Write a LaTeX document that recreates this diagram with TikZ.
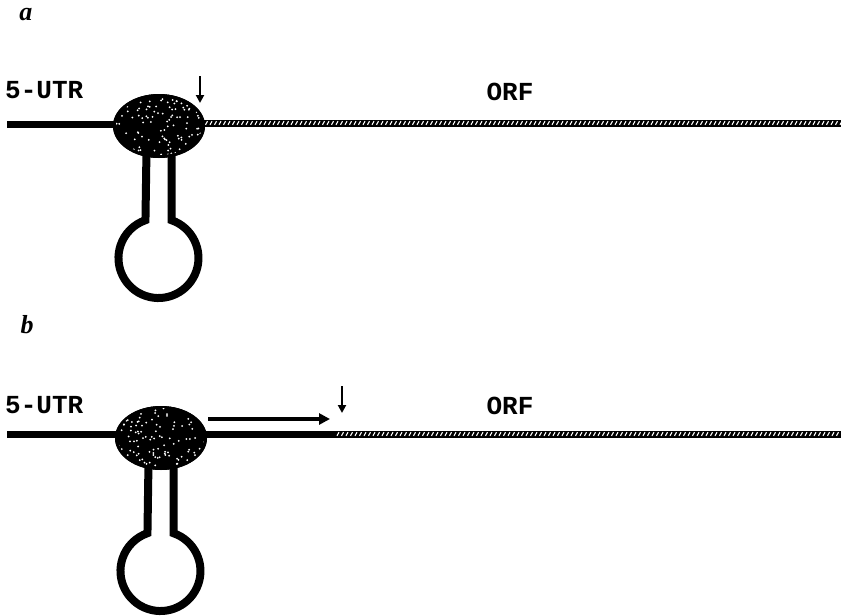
\documentclass[tikz,border=0pt]{standalone}
\usepackage{fontspec}
\usetikzlibrary{shapes.geometric,arrows.meta}
\newfontfamily\lblfont{Liberation Mono}
\newfontfamily\panelfont{Liberation Serif}
\tikzset{
  x=1pt, y=1pt,
  lbl/.style={font=\lblfont\bfseries\fontsize{26}{26}\selectfont, inner sep=0pt},
  panel/.style={font=\panelfont\bfseries\itshape\fontsize{26}{26}\selectfont, inner sep=0pt},
  rna/.style={line width=7, black},
  ribosome/.style={ellipse, fill=black, draw=none, minimum width=92, minimum height=64, inner sep=0pt},
  hairpin/.style={line width=8, black},
  marker/.style={line width=2.8, -{Triangle[length=8, width=8]}},
  scan/.style={line width=3.8, -{Triangle[length=11, width=11]}}
}
% hatched coding region: black band with slanted white ticks
\newcommand{\orfband}[3]{%
  \draw[rna] (#1,#3) -- (#2,#3);
  \pgfmathsetmacro{\xstart}{#1+2}
  \pgfmathsetmacro{\xnext}{#1+6.5}
  \foreach \xx in {\xstart,\xnext,...,#2}
    \draw[white, line width=1.1] (\xx-1,#3-1.8) -- (\xx+1,#3+1.8);
}
% speckled fill inside a ribosome ellipse
\newcommand{\speckle}[4]{%
  \begin{scope}
    \clip (#1,#2) ellipse [x radius=#3-3, y radius=#4-3];
    \foreach \k in {1,...,130}
      \fill[white] ({#1+rand*#3},{#2+rand*#4}) circle (1.0);
  \end{scope}
}
\begin{document}
\begin{tikzpicture}
\useasboundingbox (0,0) rectangle (841,-616);
\pgfmathsetseed{11}

% ---------------- panel a ----------------
\node[panel] (pa) at (26,-15) {a};
\node[lbl, anchor=west] (utrA) at (5,-90) {5-UTR};
\node[lbl] (orfA) at (510,-92) {ORF};

% stem-loop below the ribosome
\draw[hairpin] (171.5,-150) -- (171.5,-220.2)
  arc[start angle=71, end angle=-251, radius=40] -- (146.5,-150);

\coordinate (utrA0) at (7,-124);
\node[ribosome] (ribA) at (159,-126) {};
\draw[rna] (utrA0) -- (utrA0 -| ribA.center);
\orfband{200}{841}{-123}
\node[ribosome] at (ribA) {};
\speckle{159}{-126}{46}{32}

\coordinate (startA) at (200,-76);
\coordinate (siteA) at (200,-103);
\draw[marker] (startA) -- (siteA);

% ---------------- panel b ----------------
\node[panel] (pb) at (27,-325) {b};
\node[lbl, anchor=west] (utrB) at (5,-405) {5-UTR};
\node[lbl] (orfB) at (510,-406) {ORF};

\draw[hairpin] (173.5,-462) -- (173.5,-533.2)
  arc[start angle=71, end angle=-251, radius=40] -- (148.5,-462);

\coordinate (utrB0) at (7,-434);
\coordinate (utrB1) at (338,-434);
\node[ribosome] (ribB) at (161,-438) {};
\draw[rna] (utrB0) -- (utrB1);
\orfband{336}{841}{-434}
\node[ribosome] at (ribB) {};
\speckle{161}{-438}{46}{33}

\coordinate (scanS) at (208,-419);
\coordinate (scanE) at (330,-419);
\draw[scan] (scanS) -- (scanE);

\coordinate (startB) at (342,-386);
\coordinate (siteB) at (342,-413);
\draw[marker] (startB) -- (siteB);
\end{tikzpicture}
\end{document}
